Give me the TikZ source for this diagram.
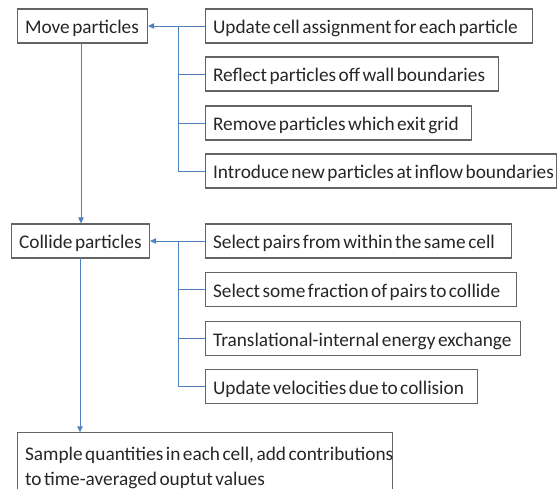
\documentclass[tikz,border=0pt]{standalone}
\usepackage{fontspec}
\setmainfont{Carlito}
\usetikzlibrary{arrows.meta}
\definecolor{boxgray}{HTML}{646464}
\definecolor{connblue}{HTML}{4F81BD}
\definecolor{txt}{HTML}{262626}
\newcommand{\lbox}[2]{\makebox[#1][l]{\spaceskip=0.13em\relax #2}}
\tikzset{
  box/.style={draw=boxgray, line width=1.1pt, rectangle, anchor=west, minimum height=34pt,
    inner xsep=7.5pt, inner ysep=0pt, text=txt, text height=15.5pt, text depth=0pt,
    font=\fontsize{19.3}{25.5}\selectfont},
  conn/.style={draw=connblue, line width=0.9pt},
  arr/.style={conn, -{Triangle[length=6pt,width=5.5pt]}}
}
\begin{document}
\begin{tikzpicture}[x=1pt,y=-1pt]
\useasboundingbox (0,0) rectangle (557,489);
% top group
\node[box] (move) at (17,26) {\lbox{115pt}{Move particles}};
\node[box] (u1) at (205,26) {\lbox{312pt}{Update cell assignment for each particle}};
\node[box] (u2) at (205,74) {\lbox{278pt}{Reflect particles off wall boundaries}};
\node[box] (u3) at (205,123) {\lbox{251pt}{Remove particles which exit grid}};
\node[box] (u4) at (205,171) {\lbox{336pt}{Introduce new particles at inflow boundaries}};
% collide group
\node[box] (col) at (11,241) {\lbox{123pt}{Collide particles}};
\node[box] (c1) at (205,241) {\lbox{291pt}{Select pairs from within the same cell}};
\node[box] (c2) at (205,289.7) {\lbox{296pt}{Select some fraction of pairs to collide}};
\node[box] (c3) at (205,338.7) {\lbox{300pt}{Translational-internal energy exchange}};
\node[box] (c4) at (205,386.7) {\lbox{257pt}{Update velocities due to collision}};
% sample
\node[box, anchor=north west, align=left, minimum height=70pt, inner ysep=11.5pt,
      text height=, text depth=]
  (samp) at (17,432.3) {\lbox{360pt}{Sample quantities in each cell, add contributions}\\\lbox{360pt}{to time-averaged ouptut values}};
% connectors top
\coordinate (b1) at (178,26);
\draw[arr] (u1.west) -- (move.east);
\draw[conn] (u2.west) -- (u2.west -| b1);
\draw[conn] (u3.west) -- (u3.west -| b1);
\draw[conn] (u4.west) -| (b1);
% connectors collide
\coordinate (b2) at (178,241);
\draw[arr] (c1.west) -- (col.east);
\draw[conn] (c2.west) -- (c2.west -| b2);
\draw[conn] (c3.west) -- (c3.west -| b2);
\draw[conn] (c4.west) -| (b2);
% vertical arrows
\coordinate (v1) at (81,43);
\coordinate (v2) at (80,258);
\draw[arr] (v1) -- (v1 |- col.north);
\draw[arr] (v2) -- (v2 |- samp.north);
\end{tikzpicture}
\end{document}
